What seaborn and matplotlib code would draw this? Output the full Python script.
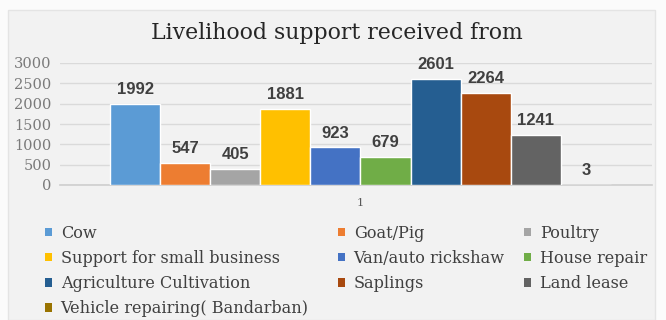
import matplotlib
matplotlib.use("Agg")
import matplotlib.pyplot as plt
from matplotlib.patches import Patch, Rectangle
import seaborn as sns
import pandas as pd

# Livelihood support categories and number of recipients
categories = [
    "Cow", "Goat/Pig", "Poultry", "Support for small business",
    "Van/auto rickshaw", "House repair", "Agriculture Cultivation",
    "Saplings", "Land lease", "Vehicle repairing( Bandarban)",
]
values = [1992, 547, 405, 1881, 923, 679, 2601, 2264, 1241, 3]
colors = [
    "#5B9BD5", "#ED7D31", "#A5A5A5", "#FFC000", "#4472C4",
    "#70AD47", "#255E91", "#A8490F", "#636363", "#997300",
]
group = ["1"] * len(categories)
y_ticks = [0, 500, 1000, 1500, 2000, 2500, 3000]

df = pd.DataFrame({"group": group, "category": categories, "value": values})

sns.set_theme(style="white")
plt.rcParams["font.family"] = ["DejaVu Serif"]

W, H = 666, 320
fig = plt.figure(figsize=(W / 100, H / 100), dpi=100)
fig.patch.set_facecolor("#fbfbfb")

# chart panel background
panel = Rectangle((8 / W, 0), (655 - 8) / W, (H - 10) / H,
                  transform=fig.transFigure, facecolor="#f2f2f2",
                  edgecolor="#e4e4e4", linewidth=1, zorder=-5)
fig.add_artist(panel)

ax = fig.add_axes([60 / W, (H - 185) / H, (652 - 60) / W, (185 - 63) / H])
ax.set_zorder(2)
ax.set_facecolor("none")

sns.barplot(data=df, x="group", y="value", hue="category",
            hue_order=categories, palette=colors, width=0.846,
            dodge=True, saturation=1, legend=False, ax=ax, zorder=3)

for cont in ax.containers:
    ax.bar_label(cont, padding=5, fontsize=12, fontweight="bold",
                 family="Liberation Sans", color="#404040")

ax.set_xlim(-0.5076, 0.4924)
ax.set_ylim(0, 3000)
ax.set_yticks(y_ticks)
ax.set_yticklabels([str(t) for t in y_ticks], fontsize=10.5, color="#7a7a7a")
ax.tick_params(axis="y", length=0, pad=6)
ax.tick_params(axis="x", length=0, pad=9, labelsize=8, labelcolor="#595959")
ax.set_xlabel("")
ax.set_ylabel("")
ax.grid(axis="y", color="#dadada", linewidth=1, zorder=0)
ax.set_axisbelow(True)
for s in ["top", "right", "left"]:
    ax.spines[s].set_visible(False)
ax.spines["bottom"].set_color("#d0d0d0")

fig.text(337 / W, 1 - 33 / H, "Livelihood support received from",
         ha="center", va="center", fontsize=15.8, color="#262626")

# legend: three columns, entries filled row by row
columns = [[0, 3, 6, 9], [1, 4, 7], [2, 5, 8]]
column_x = [45, 338, 524]
for idx, x0 in zip(columns, column_x):
    handles = [Patch(facecolor=colors[i], edgecolor="none") for i in idx]
    labels = [categories[i] for i in idx]
    fig.legend(handles, labels, loc="upper left",
               bbox_to_anchor=(x0 / W, 1 - 225 / H), frameon=False,
               fontsize=11.6, labelcolor="#404040", handlelength=0.42,
               handleheight=0.42, handletextpad=0.55,
               labelspacing=0.5, borderpad=0, borderaxespad=0)

fig.savefig("out.png", dpi=100, facecolor=fig.get_facecolor())
